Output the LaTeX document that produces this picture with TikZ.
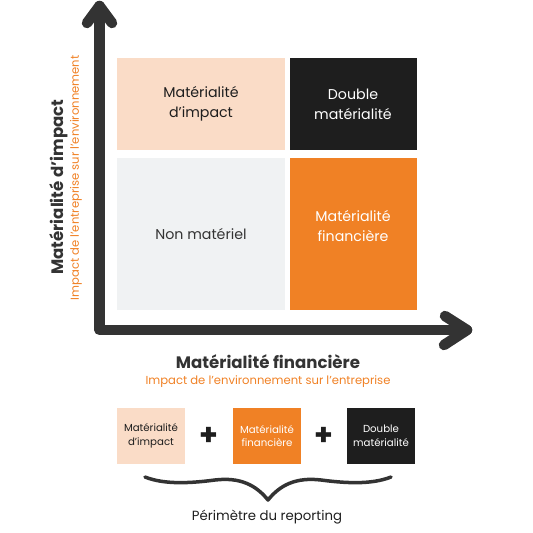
\documentclass[tikz,border=0pt]{standalone}
\usepackage{fontspec}
\usepackage{tikz}
\usetikzlibrary{positioning, calc}
\setmainfont{Poppins}
\definecolor{matpeach}{HTML}{FADCC7}
\definecolor{matblack}{HTML}{1E1E1E}
\definecolor{matgrey}{HTML}{F0F2F3}
\definecolor{matorange}{HTML}{F08125}
\definecolor{mataxis}{HTML}{333333}

\begin{document}
\begin{tikzpicture}[
  x=1pt, y=-1pt,
  quad/.style={rectangle, inner sep=0pt, align=center, font=\fontsize{14.2}{20}\selectfont},
  smallbox/.style={rectangle, inner sep=0pt, minimum width=68pt, minimum height=56pt, align=center, font=\fontsize{10.2}{13.5}\selectfont},
  axis/.style={draw=mataxis, line width=10.5pt, line cap=round, line join=round},
  axistitle/.style={font=\fontsize{16.6}{18}\selectfont\bfseries, text=mataxis},
  axissub/.style={font=\fontsize{11.6}{12}\selectfont, text=matorange},
  plus/.style={font=\fontsize{30}{30}\selectfont\bfseries, text=matblack}
]
\useasboundingbox (0,0) rectangle (533,533);

% axes
\coordinate (origin) at (99.5,330);
\coordinate (ytip) at (99.5,6);
\coordinate (xtip) at (467,330);
\draw[axis] (ytip) -- (origin) -- (xtip);
\draw[axis] (87,23) -- (ytip) -- (112,23);
\draw[axis] (445,316) -- (xtip) -- (444,345);

% quadrants
\node[quad, fill=matpeach, minimum width=168pt, minimum height=92pt, text=matblack] (impact) at (201,104) {Matérialité\\d’impact};
\node[quad, fill=matblack, minimum width=127pt, minimum height=92pt, text=white] (double) at (353,104) {Double\\matérialité};
\node[quad, fill=matgrey, minimum width=168pt, minimum height=152pt, text=mataxis] (nonmat) at (201,234) {Non matériel};
\node[quad, fill=matorange, minimum width=127pt, minimum height=152pt, text=white] (financ) at (353,234) {};
\node[quad, text=white] (financlbl) at (353,226) {Matérialité\\financière};

% axis titles
\node[axistitle] (xtitle) at (268,362) {Matérialité financière};
\node[axissub, below=0pt of xtitle] (xsub) {Impact de l’environnement sur l’entreprise};
\node[axistitle, rotate=90] (ytitle) at (59,187) {Matérialité d’impact};
\node[axissub, rotate=90] (ysub) at (76,178) {Impact de l’entreprise sur l’environnement};

% reporting
\node[smallbox, fill=matpeach, text=matblack] (simpact) at (151,436) {Matérialité\\d’impact};
\node[smallbox, fill=matorange, text=white] (sfinanc) at (267,436) {Matérialité\\financière};
\node[smallbox, fill=matblack, text=white] (sdouble) at (381,436) {Double\\matérialité};
\node[plus] (plusa) at ($(simpact.east)!0.5!(sfinanc.west)$) {+};
\node[plus] (plusb) at ($(sfinanc.east)!0.5!(sdouble.west)$) {+};

\coordinate (bl) at (145,477);
\coordinate (btip) at (268,500);
\coordinate (br) at (391,477);
\draw[mataxis, line width=3.5pt, line cap=round, line join=round]
  (bl) .. controls (165,485) and (192,483) .. (215,480)
  .. controls (240,477) and (256,485) .. (btip)
  .. controls (280,485) and (296,477) .. (321,480)
  .. controls (344,483) and (371,485) .. (br);
\node[font=\fontsize{13.3}{15}\selectfont, text=matblack] (perim) at (267,517) {Périmètre du reporting};
\end{tikzpicture}
\end{document}
